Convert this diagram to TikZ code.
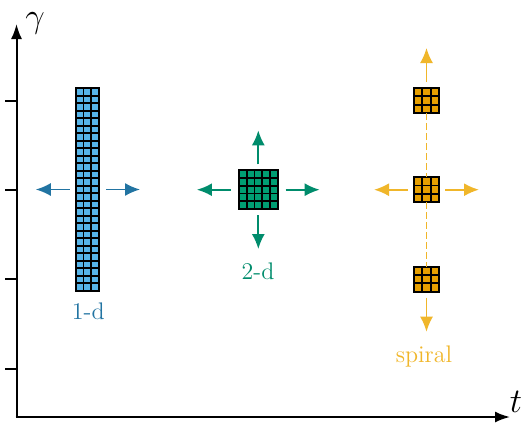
\documentclass[tikz,border=0pt]{standalone}
\usetikzlibrary{arrows.meta,calc}
\definecolor{onedfill}{RGB}{86,180,233}
\definecolor{onedline}{RGB}{34,116,162}
\definecolor{twodfill}{RGB}{0,158,115}
\definecolor{twodline}{RGB}{0,140,108}
\definecolor{spiralfill}{RGB}{230,159,0}
\definecolor{spiralline}{RGB}{240,182,42}
\tikzset{
  cellblock/.style={draw=black, line width=0.9pt, inner sep=0pt, outer sep=0pt},
  arr/.style={line width=0.9pt, -{Latex[length=7.5pt,width=6.5pt]}},
  axis/.style={line width=1pt, -{Latex[length=7.5pt,width=5.5pt]}},
  lbl/.style={font=\fontsize{12}{14}\selectfont},
}
\newcommand{\cellgrid}[3]{%
  \foreach \i in {1,...,#2}
    \draw[line width=0.9pt] ($(#1.north west)!\i/#2!(#1.north east)$) -- ($(#1.south west)!\i/#2!(#1.south east)$);
  \foreach \j in {1,...,#3}
    \draw[line width=0.9pt] ($(#1.north west)!\j/#3!(#1.south west)$) -- ($(#1.north east)!\j/#3!(#1.south east)$);
}
\begin{document}
\begin{tikzpicture}[x=0.5pt,y=-0.5pt]
  \useasboundingbox (0,0) rectangle (522,423);
  % axes
  \coordinate (o) at (16.5,417);
  \coordinate (ytop) at (16.5,24);
  \coordinate (xend) at (510,417);
  \draw[axis] (o) -- (ytop);
  \draw[axis] ([xshift=-0.5pt]o) -- (xend);
  \foreach \y in {101,190,279,369}
    \draw[line width=1pt] (5,\y) -- (16.5,\y);
  \node[font=\fontsize{18}{18}\selectfont, inner sep=0pt] (gam) at (35,23) {$\gamma$};
  \node[font=\fontsize{17}{17}\selectfont, inner sep=0pt] (tlab) at (516,402) {$t$};

  % 1-d
  \node[cellblock, fill=onedfill, minimum width=11.65pt, minimum height=101.2pt] (col) at (87.4,189.5) {};
  \cellgrid{col}{3}{27}
  \draw[arr, onedline] ([xshift=-3pt]col.west) -- ++(-34,0);
  \draw[arr, onedline] ([xshift=3.5pt]col.east) -- ++(34,0);
  \node[lbl, text=onedline] (lab1) at (88.3,311.7) {1-d};

  % 2-d
  \node[cellblock, fill=twodfill, minimum size=19.35pt] (sq) at (258.3,189.7) {};
  \cellgrid{sq}{5}{5}
  \draw[arr, twodline] ([yshift=3pt]sq.north) -- ++(0,-34);
  \draw[arr, twodline] ([yshift=-3pt]sq.south) -- ++(0,34);
  \draw[arr, twodline] ([xshift=-4pt]sq.west) -- ++(-34,0);
  \draw[arr, twodline] ([xshift=4pt]sq.east) -- ++(34,0);
  \node[lbl, text=twodline] (lab2) at (258,271.7) {2-d};

  % spiral
  \foreach \n/\y in {s1/100.5,s2/189.7,s3/279.2}{
    \node[cellblock, fill=spiralfill, minimum size=12.5pt] (\n) at (426.5,\y) {};
    \cellgrid{\n}{3}{3}
  }
  \draw[spiralline, line width=0.9pt, dash pattern=on 3.5pt off 1.5pt] (s1) -- (s2);
  \draw[spiralline, line width=0.9pt, dash pattern=on 3.5pt off 1.5pt] (s2) -- (s3);
  \draw[arr, spiralline] ([yshift=3pt]s1.north) -- ++(0,-34);
  \draw[arr, spiralline] ([yshift=-3pt]s3.south) -- ++(0,34);
  \draw[arr, spiralline] ([xshift=-3pt]s2.west) -- ++(-34,0);
  \draw[arr, spiralline] ([xshift=3pt]s2.east) -- ++(34,0);
  \node[lbl, text=spiralline] (lab3) at (424,356.7) {spiral};
\end{tikzpicture}
\end{document}
